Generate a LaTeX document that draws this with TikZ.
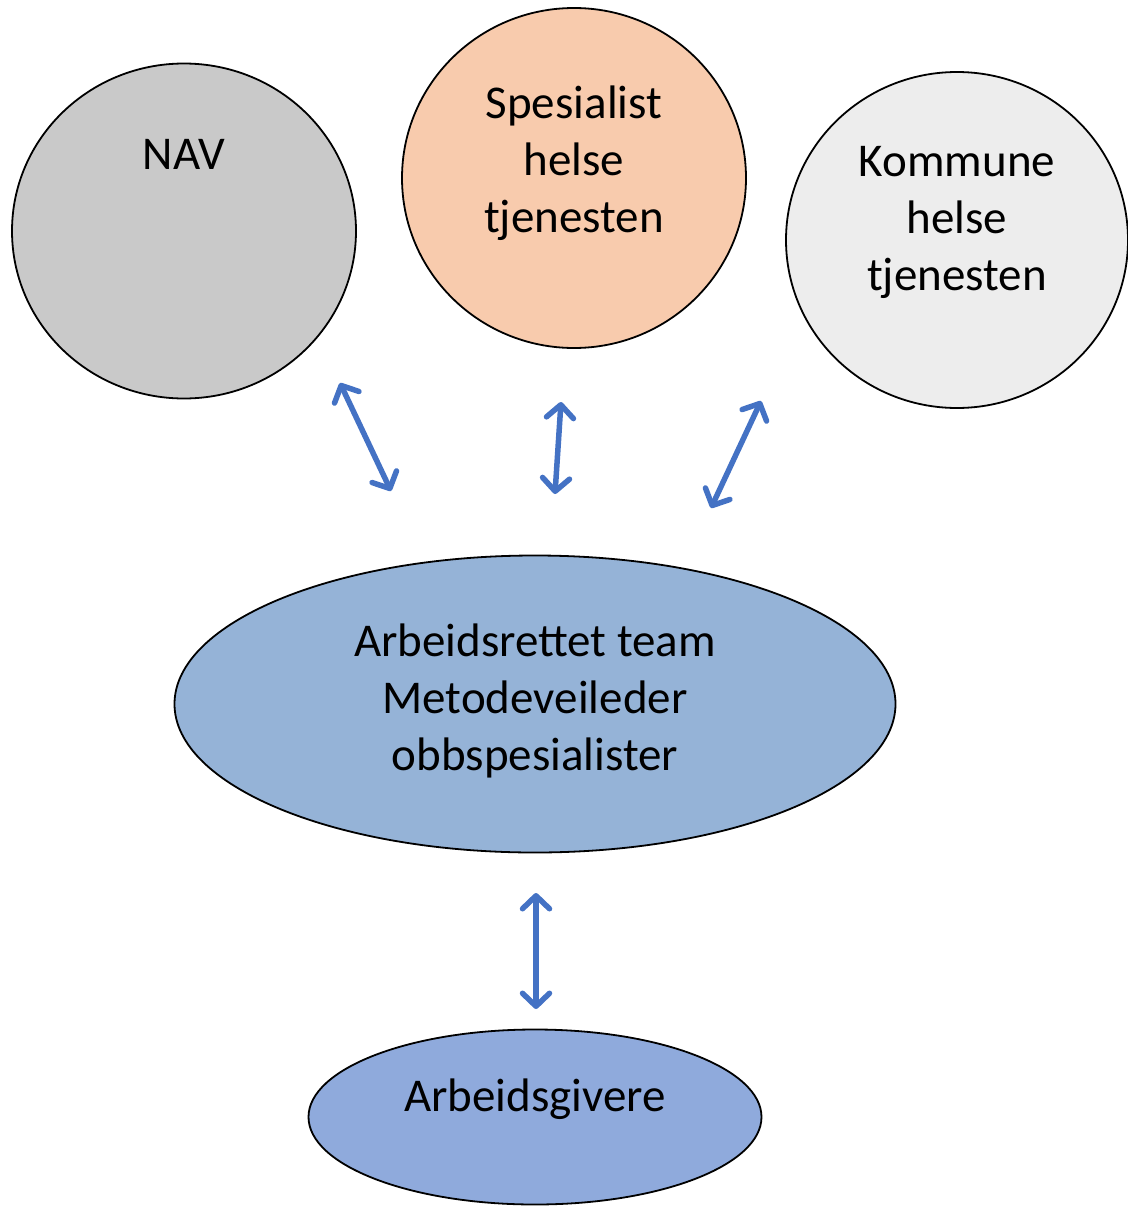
\documentclass[tikz,border=0pt]{standalone}
\usepackage{fontspec}
\setmainfont{Carlito}
\usetikzlibrary{shapes.geometric,arrows.meta}
\definecolor{navGray}{RGB}{201,201,201}
\definecolor{speOrange}{RGB}{248,203,173}
\definecolor{komGray}{RGB}{237,237,237}
\definecolor{teamBlue}{RGB}{149,179,215}
\definecolor{givBlue}{RGB}{143,170,220}
\definecolor{arrowBlue}{RGB}{68,114,196}

\begin{document}
\begin{tikzpicture}[x=1pt, y=-1pt,
        every node/.style={font=\fontsize{47}{57}\selectfont, align=center}]
        \tikzstyle{shapeStyle} = [ellipse, draw=black, line width=1.8pt, inner sep=0pt]
        \tikzstyle{blueEdge} = [draw=arrowBlue, line width=5.5pt,
            {Straight Barb[length=13pt, width=27pt, round]}-{Straight Barb[length=13pt, width=27pt, round]}]
        \useasboundingbox (0,0) rectangle (1127,1207);
        \node[shapeStyle, fill=navGray, minimum width=344, minimum height=335] (nav) at (184,231) {};
        \node[shapeStyle, fill=speOrange, minimum width=344, minimum height=340] (spe) at (574,178) {};
        \node[shapeStyle, fill=komGray, minimum width=342, minimum height=336] (kom) at (957,240) {};
        \node[shapeStyle, fill=teamBlue, minimum width=721, minimum height=297] (team) at (535,704) {};
        \node[shapeStyle, fill=givBlue, minimum width=453, minimum height=175] (giv) at (535,1117) {};
        \node (navText) at (184,154) {NAV};
        \node (speText) at (574,163) {Spesialist\\helse\\tjenesten};
        \node (komText) at (957,222) {Kommune\\helse\\tjenesten};
        \node (teamText) at (535,701) {Arbeidsrettet team\\Metodeveileder\\obbspesialister};
        \node (givText) at (535,1099) {Arbeidsgivere};
        \coordinate (n1) at (340,383);
        \coordinate (t1) at (391,491);
        \coordinate (n2) at (561,402);
        \coordinate (t2) at (555,494);
        \coordinate (n3) at (761,401);
        \coordinate (t3) at (711,508);
        \coordinate (n4) at (536,893);
        \coordinate (t4) at (536,1009);
        \foreach \from/\to in {n1/t1, n2/t2, n3/t3, n4/t4}
            \path[blueEdge] (\from) -- (\to);
    \end{tikzpicture}
\end{document}
